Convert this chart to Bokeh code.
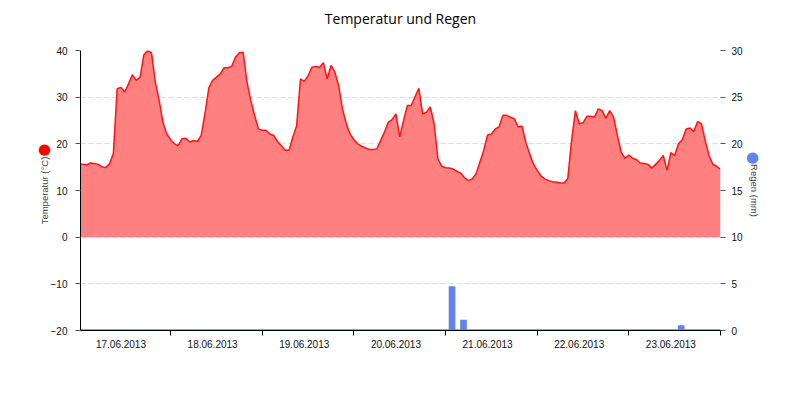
from bokeh.plotting import figure
from bokeh.models import Range1d, LinearAxis, FixedTicker, Label
from bokeh.embed import file_html
from bokeh.resources import INLINE

chart_title = "Temperatur und Regen"
day_labels = ["17.06.2013", "18.06.2013", "19.06.2013", "20.06.2013",
              "21.06.2013", "22.06.2013", "23.06.2013"]
temp_ticks = [-20, -10, 0, 10, 20, 30, 40]
rain_ticks = [0, 5, 10, 15, 20, 25, 30]

# hours since 17.06.2013 00:00
hours = [0.4] + list(range(1, 169))
temp_c = [
    15.7, 15.6, 15.5, 15.9, 15.8, 15.6, 15.1, 14.9, 15.7, 17.9,
    31.8, 32.1, 31.1, 32.9, 34.8, 33.6, 34.3, 39.1, 40.0, 39.5,
    33.2, 29.3, 24.6, 22.1, 20.9, 20.0, 19.6, 21.1, 21.2, 20.4,
    20.7, 20.5, 21.8, 26.5, 32.0, 33.6, 34.3, 35.0, 36.3, 36.3,
    36.6, 38.6, 39.5, 39.6, 33.2, 29.3, 26.1, 23.2, 22.9, 22.9,
    22.1, 21.8, 20.5, 19.6, 18.6, 18.6, 21.4, 23.9, 33.9, 33.4,
    34.6, 36.4, 36.6, 36.4, 37.4, 33.9, 36.8, 35.4, 32.5, 27.5,
    24.3, 22.1, 20.9, 20.0, 19.5, 19.1, 18.8, 18.8, 18.9, 20.7,
    22.5, 24.6, 25.2, 26.4, 21.5, 25.0, 28.2, 28.2, 30.1, 31.9,
    26.4, 26.8, 27.9, 24.3, 16.8, 15.2, 14.9, 14.8, 14.6, 14.1,
    13.7, 12.7, 12.1, 12.5, 13.6, 16.1, 18.6, 21.9, 22.1, 23.2,
    23.6, 26.1, 26.1, 25.7, 25.4, 23.6, 23.8, 20.4, 17.9, 15.7,
    14.3, 13.1, 12.5, 12.1, 11.9, 11.8, 11.6, 11.6, 12.5, 20.7,
    27.1, 24.3, 24.5, 25.9, 25.9, 25.7, 27.5, 27.1, 25.5, 27.1,
    25.7, 21.8, 18.2, 16.9, 17.6, 16.9, 16.6, 15.9, 15.8, 15.6,
    14.8, 15.6, 16.4, 17.5, 14.3, 18.1, 17.5, 20.0, 20.9, 23.2,
    23.4, 22.6, 24.8, 24.3, 20.7, 17.5, 15.6, 15.2, 14.5,
]
rain_hours = [97.7, 100.7, 157.7]
rain_mm = [4.75, 1.15, 0.55]

RED = "#ff1414"
FILL = "#ff8080"
BLUE = "#6185ea"
FONT = "Liberation Sans"

p = figure(width=784, height=384, output_backend="svg", toolbar_location=None,
           title=None,
           x_range=Range1d(hours[0], hours[-1]), y_range=Range1d(-20, 40),
           min_border_left=80, min_border_right=64, min_border_top=50,
           min_border_bottom=54)
p.extra_y_ranges = {"rain": Range1d(0, 30)}
p.outline_line_color = None
p.background_fill_color = "white"
p.border_fill_color = "white"

# grid
p.xgrid.visible = False
p.ygrid.grid_line_color = "#dcdcdc"
p.ygrid.grid_line_dash = "5 3"
p.ygrid.grid_line_width = 1

# temperature area
p.varea(x=hours, y1=0, y2=temp_c, fill_color=FILL)
p.line(hours, temp_c, line_color=RED, line_width=1.5)

# rain bars
p.line([hours[0], hours[-1]], [0, 0], y_range_name="rain",
       line_color=BLUE, line_width=2.5)
p.vbar(x=rain_hours, top=rain_mm, bottom=0, width=1.75, y_range_name="rain",
       fill_color=BLUE, line_color=None)

# x axis
label_pos = [11 + 24 * i for i in range(len(day_labels))]
xa = p.xaxis[0]
xa.ticker = FixedTicker(ticks=label_pos,
                        minor_ticks=[24 * (i + 1) for i in range(len(day_labels))])
xa.major_label_overrides = {pos: lab for pos, lab in zip(label_pos, day_labels)}
xa.major_tick_out = 0
xa.major_tick_in = 0
xa.minor_tick_out = 5
xa.minor_tick_in = 0
xa.minor_tick_line_color = "black"
xa.axis_line_color = "black"
xa.major_label_standoff = 4
xa.major_label_text_font = FONT
xa.major_label_text_font_size = "10px"
xa.major_label_text_color = "#111111"

# left axis
ya = p.yaxis[0]
ya.ticker = FixedTicker(ticks=temp_ticks)
ya.axis_label = "Temperatur (°C)"
ya.axis_label_text_font = FONT
ya.axis_label_text_font_size = "9.5px"
ya.axis_label_text_font_style = "normal"
ya.axis_label_standoff = -2
ya.axis_line_color = "black"
ya.major_tick_out = 5
ya.major_tick_in = 0
ya.major_tick_line_color = "#555555"
ya.minor_tick_line_color = None
ya.major_label_standoff = 8
ya.major_label_text_font = FONT
ya.major_label_text_font_size = "10px"
ya.major_label_text_color = "#111111"

# right axis
ra = LinearAxis(y_range_name="rain", ticker=FixedTicker(ticks=rain_ticks),
                axis_label="Regen (mm)")
ra.axis_label_text_font = FONT
ra.axis_label_text_font_size = "9.5px"
ra.axis_label_text_font_style = "normal"
ra.axis_label_standoff = 3
ra.axis_line_color = None
ra.major_tick_out = 5
ra.major_tick_in = 0
ra.major_tick_line_color = "#555555"
ra.minor_tick_line_color = None
ra.major_label_standoff = 6
ra.major_label_text_font = FONT
ra.major_label_text_font_size = "10px"
ra.major_label_text_color = "#111111"
p.add_layout(ra, "right")

# chart title (side-panel label, so it does not push the frame down)
p.add_layout(Label(x=320, y=32, x_units="screen", y_units="screen",
                   text=chart_title, text_color="#000000",
                   text_font="Open Sans", text_font_size="14px",
                   text_align="center", text_baseline="middle"), "above")

# legend dots next to axis titles (placed in the side panels, so not clipped)
p.add_layout(Label(x=22, y=182, x_units="screen", y_units="screen", text="●",
                   text_color="#ff0000", text_font="DejaVu Sans",
                   text_font_size="15px", text_align="center",
                   text_baseline="middle"), "left")
p.add_layout(Label(x=-10, y=174, x_units="screen", y_units="screen", text="●",
                   text_color=BLUE, text_font="DejaVu Sans",
                   text_font_size="15px", text_align="center",
                   text_baseline="middle"), "right")

open("out.html", "w").write(file_html(p, INLINE))
